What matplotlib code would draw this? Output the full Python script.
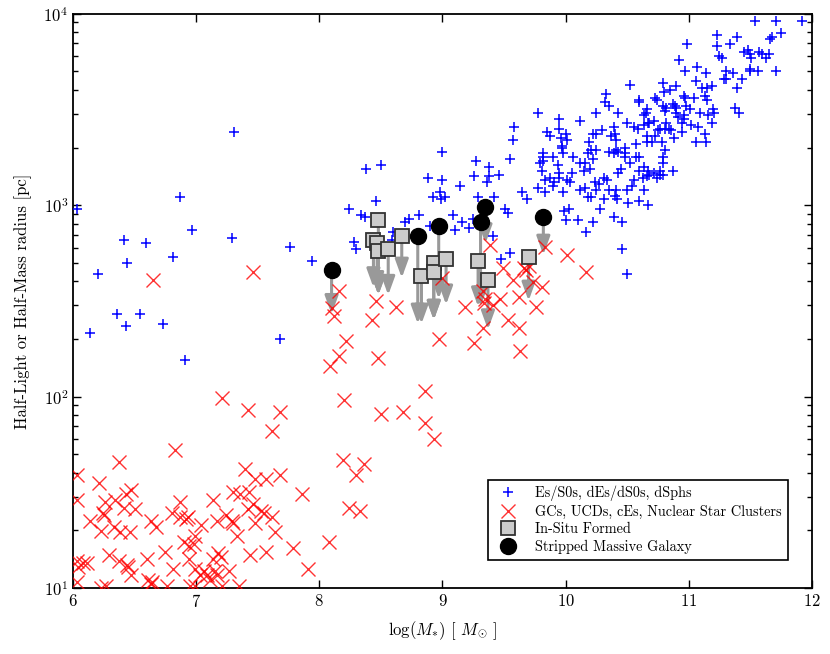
import numpy as np
import matplotlib.pyplot as plt
from matplotlib.ticker import MultipleLocator

# Es/S0s, dEs/dS0s, dSphs : log stellar mass and log radius [pc]
es_logm = [6.03, 6.14, 6.20, 6.36, 6.41, 6.43, 6.44, 6.54, 6.59, 6.73,
           6.81, 6.87, 6.91, 6.97, 7.29, 7.31, 7.68, 7.76, 7.94, 8.24,
           8.28, 8.30, 8.34, 8.37, 8.38, 8.46, 8.50, 8.59, 8.60, 8.70,
           8.73, 8.81, 8.88, 8.90, 8.92, 8.98, 8.99, 9.00, 9.00, 9.02,
           9.09, 9.10, 9.14, 9.16, 9.22, 9.25, 9.26, 9.27, 9.29, 9.36,
           9.38, 9.38, 9.41, 9.42, 9.46, 9.48, 9.51, 9.53, 9.55, 9.55,
           9.57, 9.58, 9.65, 9.69, 9.78, 9.78, 9.79, 9.83, 9.90, 9.98,
           9.99, 10.00,
           9.95, 10.12, 10.25, 10.43, 10.65, 10.81, 10.90, 10.96, 11.09, 11.16, 11.21,
           9.85, 9.95, 10.00, 10.01, 9.96, 10.22, 10.25, 10.30, 10.39, 10.40,
           10.41, 10.50, 10.56, 10.59, 10.64, 10.67, 10.72, 10.75, 10.81, 10.82,
           10.86, 10.88, 10.95, 11.02, 11.08, 11.13, 11.19, 11.14, 11.06, 10.78,
           10.73, 10.70, 10.57,
           9.82, 9.90, 9.97, 9.98, 10.06, 9.82, 9.81, 9.94, 9.95, 10.05,
           10.12, 10.16, 10.18, 10.21, 10.25, 10.15, 10.20, 10.22, 10.35, 10.41,
           10.43, 10.48, 10.48, 10.52, 10.57, 10.60, 10.64, 10.79, 10.79, 10.77,
           10.72, 10.67, 10.60, 10.45, 10.43,
           9.83, 9.87, 9.91, 9.95, 10.01, 10.04,
           10.12, 10.16, 10.18, 10.21, 10.25, 10.27, 10.24, 10.31, 10.34, 10.35,
           10.41, 10.40, 10.50, 10.54, 10.56, 10.63, 10.66, 10.68, 10.74, 10.77,
           10.79, 10.87, 10.64,
           10.03, 10.10, 10.22, 10.17, 10.28, 10.31, 10.42, 10.51, 10.60, 10.67,
           10.39, 10.46, 10.46, 10.50, 10.81,
           11.54, 11.71, 11.92, 11.23, 11.39, 11.75, 11.66, 11.68,
           10.99, 11.23, 11.34,
           11.25, 11.27, 11.45, 11.48, 11.50, 11.51, 11.57, 11.60, 11.63, 11.65,
           10.92, 10.97, 11.07, 11.14, 11.30, 11.36, 11.50, 11.50, 11.56, 11.71,
           11.06, 11.29, 11.30, 11.43,
           11.11, 11.15, 11.19, 11.39,
           10.79, 10.80, 10.85, 10.90, 10.52,
           10.73, 10.74, 10.96, 10.97, 11.04, 11.13, 11.15,
           10.33, 10.32, 10.35, 10.60, 10.60,
           10.79, 10.82, 10.87, 10.89, 10.90, 10.98, 11.01,
           10.66, 10.64, 11.20, 11.38, 11.41,
           10.91, 10.96, 10.95, 10.84, 10.77, 10.68,
           9.87, 9.97, 10.66, 10.66, 10.19, 10.39, 10.48, 9.82, 10.37]
es_logr = [2.98, 2.33, 2.64, 2.43, 2.82, 2.37, 2.70, 2.43, 2.80, 2.38,
           2.73, 3.04, 2.19, 2.87, 2.83, 3.38, 2.30, 2.78, 2.71, 2.98,
           2.81, 2.77, 2.95, 2.94, 3.19, 3.02, 3.21, 2.82, 2.86, 2.91,
           2.93, 2.95, 3.14, 2.89, 3.04, 3.07, 3.03, 3.28, 3.13, 3.04,
           2.95, 2.87, 3.10, 2.91, 2.88, 2.93, 3.15, 3.23, 3.04, 3.12,
           3.20, 3.15, 2.84, 3.04, 3.16, 2.72, 2.98, 2.96, 2.75, 3.24,
           3.34, 3.41, 3.07, 3.03, 3.48, 3.09, 3.22, 3.07, 3.10, 3.07,
           2.97, 2.92,
           3.45, 3.44, 3.48, 3.48, 3.48, 3.49, 3.48, 3.47, 3.48, 3.47, 3.48,
           3.38, 3.40, 3.37, 3.34, 3.35, 3.37, 3.37, 3.39, 3.41, 3.37,
           3.34, 3.43, 3.41, 3.40, 3.42, 3.43, 3.44, 3.39, 3.40, 3.43,
           3.39, 3.35, 3.38, 3.42, 3.41, 3.37, 3.43, 3.33, 3.33, 3.33,
           3.36, 3.33, 3.32,
           3.27, 3.25, 3.30, 3.27, 3.25, 3.23, 3.18, 3.21, 3.17, 3.17,
           3.22, 3.22, 3.27, 3.29, 3.29, 3.18, 3.19, 3.24, 3.28, 3.29,
           3.28, 3.27, 3.30, 3.22, 3.25, 3.25, 3.20, 3.25, 3.22, 3.18,
           3.17, 3.18, 3.18, 3.19, 3.17,
           3.13, 3.14, 3.12, 3.14, 3.13, 3.12,
           3.08, 3.09, 3.04, 3.04, 3.08, 3.11, 3.12, 3.14, 3.13, 3.08,
           3.08, 3.05, 3.08, 3.10, 3.13, 3.14, 3.15, 3.16, 3.14, 3.16,
           3.16, 3.18, 3.08,
           2.98, 2.92, 2.91, 2.86, 2.98, 3.03, 3.03, 3.01, 3.02, 3.00,
           2.94, 2.91, 2.77, 2.64, 3.29,
           3.96, 3.96, 3.96, 3.89, 3.88, 3.90, 3.87, 3.88,
           3.84, 3.83, 3.84,
           3.78, 3.77, 3.80, 3.81, 3.79, 3.77, 3.80, 3.79, 3.77, 3.79,
           3.76, 3.70, 3.72, 3.69, 3.70, 3.69, 3.71, 3.70, 3.70, 3.70,
           3.65, 3.66, 3.66, 3.66,
           3.61, 3.61, 3.62, 3.61,
           3.64, 3.59, 3.60, 3.62, 3.63,
           3.56, 3.55, 3.57, 3.56, 3.56, 3.57, 3.55,
           3.58, 3.54, 3.52, 3.55, 3.54,
           3.52, 3.51, 3.53, 3.52, 3.51, 3.52, 3.50,
           3.50, 3.47, 3.50, 3.51, 3.48,
           3.46, 3.45, 3.43, 3.40, 3.40, 3.43,
           3.36, 3.31, 3.36, 3.33, 3.33, 3.27, 3.25, 3.25, 3.36]

# GCs, UCDs, cEs, Nuclear Star Clusters
gc_logm = [10.01, 10.17, 9.49, 9.57, 9.66, 9.68, 9.70, 9.74, 9.81, 9.62,
           9.76, 9.47, 9.41, 9.33, 9.35, 9.34, 9.18, 9.53, 9.62, 9.33,
           9.26, 9.63, 9.00, 8.97, 8.62, 8.46, 8.43, 8.48, 8.86, 8.50,
           8.68, 8.86, 8.93, 9.39, 9.83, 8.16, 8.10, 8.12, 8.22, 8.16,
           8.09, 6.65, 7.46,
           7.21, 7.42, 7.68, 8.20, 7.62, 8.19, 8.36, 8.30, 8.24, 8.33,
           8.08, 7.91, 7.40, 7.48, 7.57, 7.68, 7.86, 7.14, 7.30, 7.36,
           7.43, 7.46, 7.42, 7.53, 7.55, 7.62, 7.17, 7.24, 7.29, 7.30,
           7.48, 7.33, 7.64, 7.04, 7.79, 7.44, 7.57, 7.18, 7.14, 7.20,
           7.27, 7.15, 7.06, 7.11, 7.21, 7.35,
           6.83, 6.37, 6.03, 6.21, 6.03, 6.43, 6.47, 6.26, 6.34, 6.41,
           6.50, 6.24, 6.25, 6.87, 6.14, 6.23, 6.33, 6.38, 6.46, 6.63,
           6.67, 6.80, 6.87, 6.92, 6.93, 6.90, 6.94, 6.99, 6.98, 6.75,
           6.29, 6.03, 6.08, 6.11, 6.04, 6.37, 6.44, 6.47, 6.45, 6.60,
           6.81, 6.94, 6.99, 7.17, 7.03, 7.09, 6.03, 6.23, 6.27, 6.61,
           6.64, 6.63, 6.76, 6.95, 6.99]
gc_logr = [2.74, 2.65, 2.67, 2.61, 2.67, 2.66, 2.68, 2.60, 2.57, 2.52,
           2.47, 2.51, 2.48, 2.55, 2.51, 2.49, 2.47, 2.40, 2.36, 2.36,
           2.28, 2.24, 2.62, 2.30, 2.47, 2.50, 2.40, 2.20, 2.03, 1.91,
           1.92, 1.86, 1.78, 2.79, 2.78, 2.55, 2.46, 2.42, 2.29, 2.21,
           2.16, 2.61, 2.65,
           1.99, 1.93, 1.92, 1.98, 1.82, 1.67, 1.65, 1.59, 1.42, 1.40,
           1.24, 1.10, 1.62, 1.57, 1.57, 1.59, 1.49, 1.46, 1.50, 1.49,
           1.50, 1.44, 1.41, 1.40, 1.39, 1.37, 1.35, 1.38, 1.35, 1.34,
           1.34, 1.27, 1.29, 1.33, 1.21, 1.17, 1.19, 1.18, 1.15, 1.16,
           1.09, 1.09, 1.09, 1.04, 1.01, 1.01,
           1.72, 1.66, 1.59, 1.55, 1.46, 1.49, 1.51, 1.45, 1.46, 1.42,
           1.41, 1.39, 1.38, 1.45, 1.35, 1.30, 1.32, 1.29, 1.29, 1.35,
           1.32, 1.39, 1.37, 1.36, 1.37, 1.24, 1.22, 1.27, 1.23, 1.19,
           1.17, 1.14, 1.13, 1.13, 1.11, 1.14, 1.12, 1.07, 1.11, 1.15,
           1.10, 1.15, 1.10, 1.07, 1.07, 1.07, 1.03, 1.00, 1.01, 1.04,
           1.03, 1.02, 1.01, 1.01, 1.01]

# In-situ formed: observed radius and corrected radius (arrow end)
insitu_logm = [8.48, 8.44, 8.47, 8.48, 8.56, 8.67, 8.83, 8.93, 8.93, 9.03, 9.29, 9.37, 9.70]
insitu_logr = [2.92, 2.82, 2.80, 2.76, 2.77, 2.84, 2.63, 2.70, 2.65, 2.72, 2.71, 2.61, 2.73]
insitu_logr_end = [2.53, 2.57, 2.55, 2.53, 2.53, 2.62, 2.38, 2.40, 2.40, 2.48, 2.47, 2.35, 2.50]

# Stripped massive galaxies
strip_logm = [8.10, 8.80, 8.97, 9.35, 9.31, 9.82]
strip_logr = [2.66, 2.84, 2.89, 2.99, 2.91, 2.94]
strip_logr_end = [2.43, 2.38, 2.51, 2.80, 2.47, 2.74]

plt.rcParams['font.family'] = 'serif'
plt.rcParams['font.serif'] = ['cmr10']
plt.rcParams['mathtext.fontset'] = 'cm'
plt.rcParams['axes.formatter.use_mathtext'] = True

fig = plt.figure(figsize=(8.3, 6.54), dpi=100)
ax = fig.add_axes([0.088, 0.101, 0.890, 0.878])

ax.plot(es_logm, 10 ** np.array(es_logr), '+', color='blue', ms=7.5, mew=1.1,
        ls='none', zorder=3, label='Es/S0s, dEs/dS0s, dSphs')
ax.plot(gc_logm, 10 ** np.array(gc_logr), 'x', color='red', ms=10, mew=1.0,
        alpha=0.8, ls='none', zorder=3, label='GCs, UCDs, cEs, Nuclear Star Clusters')

# arrows from observed to corrected radius
arrow_style = dict(arrowstyle='-|>,head_length=1.1,head_width=0.4', color='0.6',
                   lw=2.2, mutation_scale=10, shrinkA=0, shrinkB=0)
for m, r0, r1 in zip(insitu_logm + strip_logm, insitu_logr + strip_logr,
                     insitu_logr_end + strip_logr_end):
    ax.annotate('', xy=(m, 10 ** r1), xytext=(m, 10 ** r0),
                arrowprops=arrow_style, zorder=2.5)

ax.plot(insitu_logm, 10 ** np.array(insitu_logr), 's', ms=9.5, mfc='0.8', mec='0.2',
        mew=1.3, ls='none', zorder=4, label='In-Situ Formed')
ax.plot(strip_logm, 10 ** np.array(strip_logr), 'o', ms=11.5, color='k',
        ls='none', zorder=4, label='Stripped Massive Galaxy')

ax.set_yscale('log')
ax.set_xlim(6, 12)
ax.set_ylim(10, 1e4)
ax.xaxis.set_major_locator(MultipleLocator(1))
ax.tick_params(which='both', direction='in', top=True, right=True, labelsize=12)
ax.tick_params(which='major', length=6, width=1)
ax.tick_params(which='minor', length=3.5, width=1)
for s in ax.spines.values():
    s.set_linewidth(1.3)

ax.set_xlabel(r'$\log(M_{*})$ [ $M_{\odot}$ ]', fontsize=12, labelpad=7)
ax.set_ylabel('Half-Light or Half-Mass radius [pc]', fontsize=12, labelpad=8)

leg = ax.legend(loc='lower right', bbox_to_anchor=(0.977, 0.037), numpoints=1,
                fontsize=10.3, fancybox=False, framealpha=1, edgecolor='k',
                borderpad=0.4, labelspacing=0.25, handletextpad=0.9)
leg.get_frame().set_linewidth(1.2)

fig.savefig('out.png', dpi=100)
